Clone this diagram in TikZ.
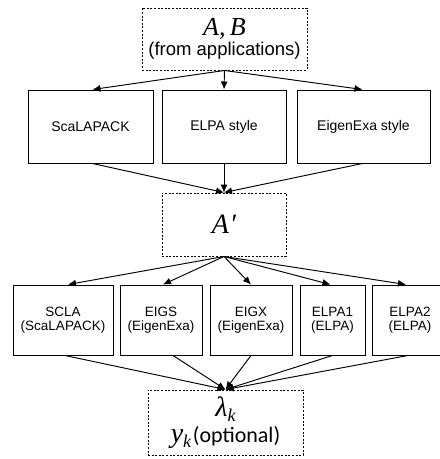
\documentclass[tikz,border=0pt]{standalone}
\usepackage{fontspec}
\setmainfont{Liberation Sans}
\newfontfamily\calfont{Carlito}
\newfontfamily\mfont{Liberation Serif}
\usetikzlibrary{arrows.meta}
\newcommand{\sbk}[1]{\raisebox{-5pt}{\fontsize{18}{18}\selectfont #1}}
\begin{document}
\begin{tikzpicture}[x=1pt,y=-1pt,
  boxa/.style={draw, line width=0.95pt, rectangle, inner sep=0pt, align=center, minimum height=73pt, font=\fontsize{14}{16}\selectfont},
  boxb/.style={draw, line width=0.95pt, rectangle, inner sep=0pt, align=center, minimum height=70pt, font=\fontsize{13.5}{14}\selectfont},
  dbox/.style={draw, line width=0.95pt, dash pattern=on 2pt off 1.6pt, rectangle, inner sep=0pt, align=center},
  arr/.style={-{Latex[length=8pt,width=7pt]}, line width=0.95pt}]
\useasboundingbox (0,0) rectangle (440,459);

% top
\node[dbox, minimum width=165pt, minimum height=62pt] (top) at (224.5,39)
  {{\mfont\itshape\fontsize{26}{26}\selectfont A,\,B}\\[1pt]{\fontsize{18.5}{20}\selectfont (from applications)}};

% row 2
\node[boxa, minimum width=125pt] (r1) at (90.5,126.5) {ScaLAPACK};
\node[boxa, minimum width=124pt] (r2) at (224,126.5) {ELPA style};
\node[boxa, minimum width=133pt] (r3) at (363.5,126.5) {EigenExa style};

% A'
\node[dbox, minimum width=124pt, minimum height=63pt] (ap) at (224,224.5)
  {\raisebox{-5pt}{\mfont\itshape\fontsize{28}{28}\selectfont A\kern1pt\char"2032}};

% row 3
\node[boxb, minimum width=100pt] (c1) at (63,320) {SCLA\\(ScaLAPACK)};
\node[boxb, minimum width=82pt] (c2) at (161,320) {EIGS\\(EigenExa)};
\node[boxb, minimum width=82pt] (c3) at (251,320) {EIGX\\(EigenExa)};
\node[boxb, minimum width=65pt] (c4) at (332.5,320) {ELPA1\\(ELPA)};
\node[boxb, minimum width=76pt] (c5) at (410,320) {ELPA2\\(ELPA)};

% bottom
\node[dbox, minimum width=155pt, minimum height=65pt] (bot) at (225.5,422.5)
  {\raisebox{-6pt}{\mfont\itshape\fontsize{28}{28}\selectfont λ\sbk{k}}\\[4pt]\raisebox{-3pt}{{\mfont\itshape\fontsize{28}{28}\selectfont y\sbk{k}}\,{\calfont\fontsize{22}{24}\selectfont(optional)}}};

% arrows
\draw[arr] (top.south) -- ([xshift=2pt]r1.north);
\draw[arr] (top.south) -- (r2.north);
\draw[arr] (top.south) -- ([xshift=-1pt]r3.north);

\draw[arr] ([xshift=2pt]r1.south) -- (ap.north);
\draw[arr] (r2.south) -- (ap.north);
\draw[arr] ([xshift=-1pt]r3.south) -- (ap.north);

\draw[arr] (ap.south) -- ([xshift=5pt]c1.north);
\draw[arr] (ap.south) -- ([xshift=2pt]c2.north);
\draw[arr] (ap.south) -- (c3.north);
\draw[arr] (ap.south) -- ([xshift=-2pt]c4.north);
\draw[arr] (ap.south) -- ([xshift=-4pt]c5.north);

\draw[arr] ([xshift=2pt]c1.south) -- (bot.north);
\draw[arr] ([xshift=12pt]c2.south) -- (bot.north);
\draw[arr] (c3.south) -- (bot.north);
\draw[arr] (c4.south) -- (bot.north);
\draw[arr] ([xshift=-2pt]c5.south) -- (bot.north);
\end{tikzpicture}
\end{document}
